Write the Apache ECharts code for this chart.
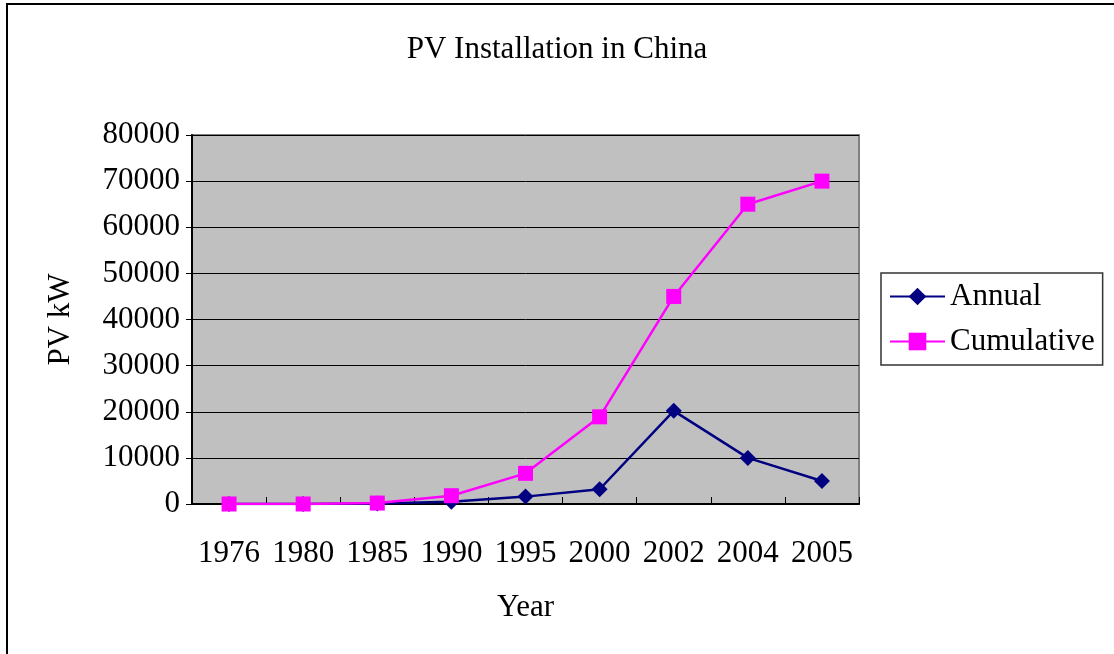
<!DOCTYPE html>
<html><head><meta charset="utf-8">
<script src="https://cdn.jsdelivr.net/npm/echarts@6/dist/echarts.min.js"></script>
<style>html,body{margin:0;padding:0;background:#fff}#c{width:1114px;height:654px}</style>
</head><body><div id="c"></div>
<script>
const years = ['1976','1980','1985','1990','1995','2000','2002','2004','2005'];
const annual = [0, 0, 100, 500, 1600, 3200, 20200, 10000, 5000];
const cumulative = [0, 0, 200, 1800, 6650, 18900, 45000, 65000, 70000];
const yTicks = {min: 0, max: 80000, interval: 10000};

const font = 'Liberation Serif';
const fs = 31;
const chart = echarts.init(document.getElementById('c'));
chart.setOption({
  animation: false,
  backgroundColor: '#fff',
  textStyle: {fontFamily: font},
  title: {text: 'PV Installation in China', left: 'center', top: 29,
    textStyle: {fontFamily: font, fontSize: fs, fontWeight: 'normal', color: '#000'}},
  graphic: [{type: 'rect', z: -10, shape: {x: 7, y: 4, width: 1300, height: 900},
    style: {fill: 'none', stroke: '#000', lineWidth: 2}}],
  legend: {
    orient: 'vertical', left: 881, top: 273, padding: [8, 8, 8, 8],
    backgroundColor: '#fff', borderColor: '#333', borderWidth: 1.5,
    itemWidth: 55, itemHeight: 22, itemGap: 14,
    textStyle: {fontFamily: font, fontSize: fs, color: '#000'},
    data: ['Annual', 'Cumulative']
  },
  grid: {left: 192, top: 135, width: 667, height: 369, show: true,
    backgroundColor: '#C0C0C0', borderColor: '#808080', borderWidth: 2},
  xAxis: {
    type: 'category', data: years, boundaryGap: true,
    name: 'Year', nameLocation: 'middle', nameGap: 88,
    nameTextStyle: {fontFamily: font, fontSize: fs, color: '#000'},
    axisLine: {lineStyle: {color: '#000', width: 2}},
    axisTick: {show: true, inside: true, length: 7, interval: 0, lineStyle: {color: '#000', width: 1}},
    axisLabel: {fontFamily: font, fontSize: fs, color: '#000', margin: 34, interval: 0}
  },
  yAxis: {
    type: 'value', min: yTicks.min, max: yTicks.max, interval: yTicks.interval,
    name: 'PV kW', nameLocation: 'middle', nameGap: 116,
    nameTextStyle: {fontFamily: font, fontSize: fs, color: '#000'},
    axisLine: {show: true, lineStyle: {color: '#000', width: 2}},
    axisTick: {show: true, length: 6, lineStyle: {color: '#000'}},
    axisLabel: {fontFamily: font, fontSize: fs, color: '#000', margin: 12,
      formatter: v => String(v)},
    splitLine: {lineStyle: {color: '#000', width: 1}}
  },
  series: [
    {name: 'Annual', type: 'line', data: annual, symbol: 'diamond', symbolSize: 16,
      itemStyle: {color: '#000080'}, lineStyle: {color: '#000080', width: 2.5}, z: 3},
    {name: 'Cumulative', type: 'line', data: cumulative, symbol: 'rect', symbolSize: 15,
      itemStyle: {color: '#FF00FF'}, lineStyle: {color: '#FF00FF', width: 2.5}, z: 4}
  ]
});
</script></body></html>
